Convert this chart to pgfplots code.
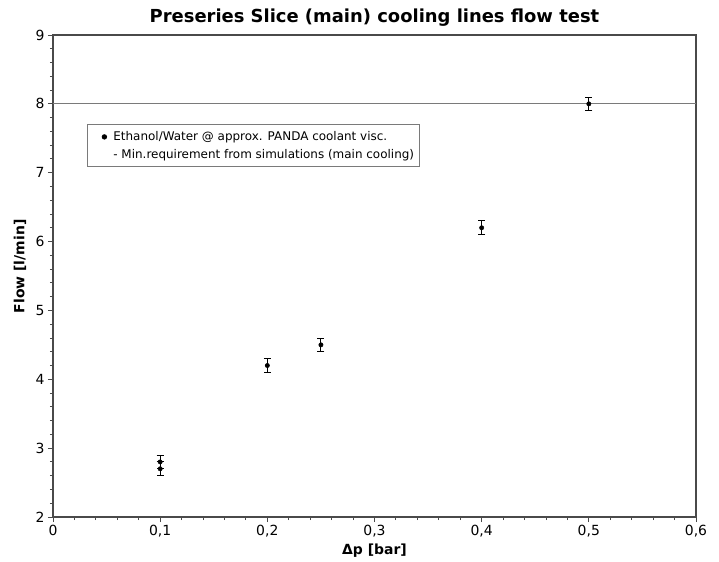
\documentclass[border=0pt]{standalone}
\usepackage{pgfplots}
\pgfplotsset{compat=1.18}
\usepackage{fontspec}
\setmainfont{DejaVu Sans}
\definecolor{axisgray}{HTML}{4A4A4A}
\definecolor{linegray}{HTML}{7A7A7A}
\begin{document}
\begin{tikzpicture}
\begin{axis}[
  scale only axis,
  width=643bp, height=482bp,
  xmin=0, xmax=0.6, ymin=2, ymax=9,
  xtick={0,0.1,0.2,0.3,0.4,0.5,0.6},
  ytick={2,3,4,5,6,7,8,9},
  minor x tick num=4, minor y tick num=4,
  tick align=outside, tick pos=left,
  major tick length=5bp, minor tick length=3bp,
  axis line style={axisgray, line width=1.2bp},
  every tick/.style={axisgray, line width=0.9bp},
  /pgf/number format/assume math mode=true,
  /pgf/number format/use comma,
  /pgf/number format/fixed,
  xticklabel style={font=\fontsize{14}{16}\selectfont},
  yticklabel style={font=\fontsize{14}{16}\selectfont},
  title={Preseries Slice (main) cooling lines flow test},
  title style={font=\bfseries\fontsize{18}{21}\selectfont, at={(axis description cs:0.5,1)}, anchor=base, yshift=7bp},
  xlabel={Δp [bar]},
  xlabel style={font=\bfseries\fontsize{14}{16}\selectfont, at={(axis description cs:0.5,0)}, anchor=base, yshift=-37bp},
  ylabel={Flow [l/min]},
  ylabel style={font=\bfseries\fontsize{14}{16}\selectfont, at={(axis description cs:-0.0513,0.52)}, anchor=center},
  legend style={at={(rel axis cs:0.0528,0.815)}, anchor=north west, draw=linegray, line width=0.9bp,
    font=\fontsize{12}{14}\selectfont, inner xsep=3bp, inner ysep=5bp, row sep=3bp, cells={anchor=west}},
  legend cell align=left,
]
\addplot[only marks, mark=*, mark size=2.2bp, black,
  legend image code/.code={\path[draw=none, fill=none] (-14bp,0) -- (7bp,0); \draw[black] plot[mark=*, mark size=2.2bp] coordinates {(0bp,0bp)};},
  error bars/.cd, y dir=both, y explicit,
  error bar style={black, line width=0.9bp},
  error mark options={rotate=90, mark size=3.5bp, line width=0.9bp, black}]
  coordinates {
  (0.1,2.7) +- (0,0.1)
  (0.1,2.8) +- (0,0.1)
  (0.2,4.2) +- (0,0.1)
  (0.25,4.5) +- (0,0.1)
  (0.4,6.2) +- (0,0.1)
  (0.5,8.0) +- (0,0.1)
  };
\addlegendentry{Ethanol/Water @ approx. PANDA coolant visc.}
\addplot[linegray, line width=1.2bp, forget plot] coordinates {(0,8) (0.6,8)};
\addlegendimage{empty legend}
\addlegendentry{- Min.requirement from simulations (main cooling)}
\coordinate (bl) at (rel axis cs:0,0);
\coordinate (tr) at (rel axis cs:1,1);
\end{axis}
\path ([shift={(-53bp,-45bp)}]bl) rectangle ([shift={(23bp,35bp)}]tr);
\end{tikzpicture}
\end{document}
